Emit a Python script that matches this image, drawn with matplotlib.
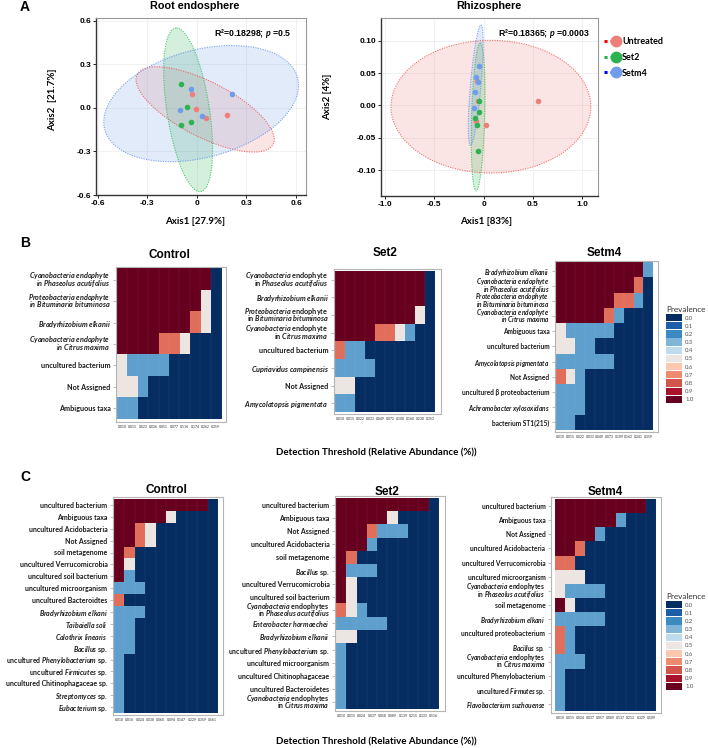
import numpy as np
import matplotlib
matplotlib.use('Agg')
import matplotlib.pyplot as plt
from matplotlib.colors import LinearSegmentedColormap
from matplotlib.lines import Line2D
from matplotlib.patches import Patch
from matplotlib.legend_handler import HandlerTuple

plt.rcParams['font.family'] = ['Lato', 'DejaVu Sans']
plt.rcParams['mathtext.fontset'] = 'custom'
plt.rcParams['mathtext.it'] = 'Lato:italic:bold'
plt.rcParams['mathtext.rm'] = 'Lato:bold'
plt.rcParams['mathtext.bf'] = 'Lato:bold'

W, H = 708, 748

# ---------------- Panel A : PCoA ----------------
groups = ['Untreated', 'Set2', 'Setm4']
point_colors = {'Untreated': '#ee8079', 'Set2': '#2bb34f', 'Setm4': '#6f9de9'}
edge_colors = {'Untreated': '#f0504a', 'Set2': '#22c04a', 'Setm4': '#5b8ff0'}
legend_dot_colors = {'Untreated': 'red', 'Set2': '#22b14c', 'Setm4': 'blue'}

root_x = {'Untreated': [-0.027, -0.008, 0.055, 0.182],
          'Set2': [-0.094, -0.057, -0.037, -0.098],
          'Setm4': [-0.037, 0.212, -0.104, 0.029]}
root_y = {'Untreated': [0.094, -0.009, -0.066, -0.048],
          'Set2': [0.162, 0.007, -0.094, -0.119],
          'Setm4': [0.128, 0.098, -0.014, -0.055]}
# ellipse: centre, first semi-axis vector, conjugate semi-axis vector
root_ell = {'Untreated': ((0.05, -0.01), (0.418, -0.206), (0.0, 0.21)),
            'Set2': ((-0.053, -0.013), (-0.071, 0.564), (0.13, 0.0)),
            'Setm4': ((0.026, 0.03), (0.589, 0.126), (0.0, 0.38))}

rhizo_x = {'Untreated': [-0.07, -0.06, -0.077, 0.027, 0.554],
           'Set2': [-0.044, -0.044, -0.087, -0.067, -0.057],
           'Setm4': [-0.05, -0.08, -0.06, -0.087, -0.094]}
rhizo_y = {'Untreated': [0.038, 0.006, -0.024, -0.031, 0.007],
           'Set2': [0.006, -0.010, -0.020, -0.031, -0.070],
           'Setm4': [0.061, 0.044, 0.036, 0.020, -0.004]}
rhizo_ell = {'Untreated': ((0.074, -0.002), (1.013, 0.0), (0.0, 0.1025)),
             'Set2': ((-0.055, -0.018), (0.021, 0.114), (0.067, 0.0)),
             'Setm4': ((-0.08, 0.031), (0.053, 0.093), (0.054, 0.0))}

root_xticks = [-0.6, -0.3, 0, 0.3, 0.6]
root_xticklabels = ['-0.6', '-0.3', '0', '0.3', '0.6']
root_yticks = [0.6, 0.3, 0.0, -0.3, -0.6]
root_yticklabels = ['0.6', '0.3', '0.0', '-0.3', '-0.6']
rhizo_xticks = [-1.0, -0.5, 0, 0.5, 1.0]
rhizo_xticklabels = ['-1.0', '-0.5', '0', '0.5', '1.0']
rhizo_yticks = [0.10, 0.05, 0.0, -0.05, -0.10]
rhizo_yticklabels = ['0.10', '0.05', '0.00', '-0.05', '-0.10']

# ---------------- Panel B : core microbiome heatmaps ----------------
b_control_rows = ['*Cyanobacteria endophyte*\n*in Phaseolus acutifolius*',
                  '*Proteobacteria endophyte*\n*in Bituminaria bituminosa*',
                  '*Bradyrhizobium elkanii*',
                  '*Cyanobacteria endophyte*\n*in Citrus maxima*',
                  'uncultured bacterium', 'Not Assigned', 'Ambiguous taxa']
b_control = [[1, 1, 1, 1, 1, 1, 1, 1, 1, 0],
             [1, 1, 1, 1, 1, 1, 1, 1, .5, 0],
             [1, 1, 1, 1, 1, 1, 1, .75, .5, 0],
             [1, 1, 1, 1, .75, .75, .5, 0, 0, 0],
             [.5, .25, .25, .25, .25, 0, 0, 0, 0, 0],
             [.5, .5, .25, 0, 0, 0, 0, 0, 0, 0],
             [.25, .25, 0, 0, 0, 0, 0, 0, 0, 0]]
b_control_ticks = ['0.010', '0.015', '0.023', '0.036', '0.051', '0.077',
                   '0.116', '0.174', '0.262', '0.359']

b_set2_rows = ['*Cyanobacteria* endophyte\nin *Phaseolus acutifolius*',
               '*Bradyrhizobium elkanii*',
               '*Proteobacteria* endophyte\nin *Bituminaria bituminosa*',
               '*Cyanobacteria* endophyte\nin *Citrus maxima*',
               'uncultured bacterium', '*Cupriavidus campinensis*',
               'Not Assigned', '*Amycolatopsis pigmentata*']
b_set2 = [[1, 1, 1, 1, 1, 1, 1, 1, 1, 0],
          [1, 1, 1, 1, 1, 1, 1, 1, 1, 0],
          [1, 1, 1, 1, 1, 1, 1, 1, .5, 0],
          [1, 1, 1, 1, .75, .75, .5, .25, 0, 0],
          [.75, .25, .25, 0, 0, 0, 0, 0, 0, 0],
          [.25, .25, .25, .25, 0, 0, 0, 0, 0, 0],
          [.5, .5, 0, 0, 0, 0, 0, 0, 0, 0],
          [.25, .25, 0, 0, 0, 0, 0, 0, 0, 0]]
b_set2_ticks = ['0.010', '0.015', '0.022', '0.033', '0.049', '0.072',
                '0.108', '0.160', '0.238', '0.353']

b_setm4_rows = ['*Bradyrhizobium elkanii*',
                '*Cyanobacteria endophyte*\n*in Phaseolus acutifolius*',
                '*Proteobacteria endophyte*\n*in Bituminaria bituminosa*',
                '*Cyanobacteria endophyte*\n*in Citrus maxima*',
                'Ambiguous taxa', 'uncultured bacterium',
                '*Amycolatopsis pigmentata*', 'Not Assigned',
                'uncultured β proteobacterium', '*Achromobacter xylosoxidans*',
                'bacterium ST1(215)']
b_setm4 = [[1, 1, 1, 1, 1, 1, 1, 1, 1, .25],
           [1, 1, 1, 1, 1, 1, 1, 1, .75, 0],
           [1, 1, 1, 1, 1, 1, .75, .75, .25, 0],
           [1, 1, 1, 1, 1, .75, .25, 0, 0, 0],
           [.5, .25, .25, .25, .25, .25, 0, 0, 0, 0],
           [.5, .5, .25, .25, 0, 0, 0, 0, 0, 0],
           [.25, .25, .25, .25, .25, .25, 0, 0, 0, 0],
           [.75, .5, .25, 0, 0, 0, 0, 0, 0, 0],
           [.25, .25, .25, 0, 0, 0, 0, 0, 0, 0],
           [.25, .25, .25, 0, 0, 0, 0, 0, 0, 0],
           [.25, .25, 0, 0, 0, 0, 0, 0, 0, 0]]
b_setm4_ticks = ['0.010', '0.015', '0.022', '0.033', '0.049', '0.073',
                 '0.109', '0.162', '0.241', '0.359']

# ---------------- Panel C ----------------
c_control_rows = ['uncultured bacterium', 'Ambiguous taxa', 'uncultured Acidobacteria',
                  'Not Assigned', 'soil metagenome', 'uncultured Verrucomicrobia',
                  'uncultured soil bacterium', 'uncultured microorganism',
                  'uncultured Bacteroidtes', '*Bradyrhizobium elkani*',
                  '*Taibaiella soli*', '*Calothrix linearis*', '*Bacillus* sp.',
                  'uncultured *Phenylobacterium* sp.', 'uncultured *Firmicutes* sp.',
                  'uncultured Chitinophagaceae sp.', '*Streptomyces* sp.',
                  '*Eubacterium* sp.']
c_control = [[1, 1, 1, 1, 1, 1, 1, 1, 1, 0],
             [1, 1, 1, 1, 1, .5, 0, 0, 0, 0],
             [1, 1, .75, .5, 0, 0, 0, 0, 0, 0],
             [1, 1, .75, .5, 0, 0, 0, 0, 0, 0],
             [1, .75, 0, 0, 0, 0, 0, 0, 0, 0],
             [1, .5, 0, 0, 0, 0, 0, 0, 0, 0],
             [1, .25, 0, 0, 0, 0, 0, 0, 0, 0],
             [.25, .25, .25, 0, 0, 0, 0, 0, 0, 0],
             [.75, 0, 0, 0, 0, 0, 0, 0, 0, 0],
             [.25, .25, .25, 0, 0, 0, 0, 0, 0, 0],
             [.25, .25, 0, 0, 0, 0, 0, 0, 0, 0],
             [.25, .25, 0, 0, 0, 0, 0, 0, 0, 0],
             [.25, .25, 0, 0, 0, 0, 0, 0, 0, 0],
             [.25, 0, 0, 0, 0, 0, 0, 0, 0, 0],
             [.25, 0, 0, 0, 0, 0, 0, 0, 0, 0],
             [.25, 0, 0, 0, 0, 0, 0, 0, 0, 0],
             [.25, 0, 0, 0, 0, 0, 0, 0, 0, 0],
             [.25, 0, 0, 0, 0, 0, 0, 0, 0, 0]]
c_control_ticks = ['0.010', '0.016', '0.024', '0.038', '0.060', '0.094',
                   '0.147', '0.229', '0.359', '0.561']

c_set2_rows = ['uncultured bacterium', 'Ambiguous taxa', 'Not Assigned',
               'uncultured Acidobacteria', 'soil metagenome', '*Bacillus* sp.',
               'uncultured Verrucomicrobia', 'uncultured soil bacterium',
               '*Cyanobacteria* endophytes\nin *Phaseolus acutifolius*',
               '*Enterobacter hormaechei*', '*Bradyrhizobium elkanii*',
               'uncultured *Phenylobacterium* sp.', 'uncultured microorganism',
               'uncultured Chitinophagaceae', 'uncultured Bacteroidetes',
               '*Cyanobacteria* endophytes\nin *Citrus maxima*']
c_set2 = [[1, 1, 1, 1, 1, 1, 1, 1, 1, 0],
          [1, 1, 1, 1, 1, .5, 0, 0, 0, 0],
          [1, 1, 1, .75, .25, .25, .25, 0, 0, 0],
          [1, 1, 1, .25, 0, 0, 0, 0, 0, 0],
          [1, .75, 0, 0, 0, 0, 0, 0, 0, 0],
          [1, .25, .25, .25, 0, 0, 0, 0, 0, 0],
          [1, .5, 0, 0, 0, 0, 0, 0, 0, 0],
          [1, .5, 0, 0, 0, 0, 0, 0, 0, 0],
          [.75, .5, .25, 0, 0, 0, 0, 0, 0, 0],
          [.25, .25, .25, .25, .25, 0, 0, 0, 0, 0],
          [.5, .5, 0, 0, 0, 0, 0, 0, 0, 0],
          [.25, 0, 0, 0, 0, 0, 0, 0, 0, 0],
          [.25, 0, 0, 0, 0, 0, 0, 0, 0, 0],
          [.25, 0, 0, 0, 0, 0, 0, 0, 0, 0],
          [.25, 0, 0, 0, 0, 0, 0, 0, 0, 0],
          [.25, 0, 0, 0, 0, 0, 0, 0, 0, 0]]
c_set2_ticks = ['0.010', '0.015', '0.024', '0.037', '0.058', '0.089',
                '0.139', '0.215', '0.333', '0.516']

c_setm4_rows = ['uncultured bacterium', 'Ambiguous taxa', 'Not Assigned',
                'uncultured Acidobacteria', 'uncultured Verrucomicrobia',
                'uncultured microorganism',
                '*Cyanobacteria* endophytes\nin *Phaseolus acutifolius*',
                'soil metagenome', '*Bradyrhizobium elkani*',
                'uncultured proteobacterium', '*Bacillus* sp.',
                '*Cyanobacteria* endophytes\nin *Citrus maxima*',
                'uncultured Phenylobacterium', 'uncultured *Firmutes* sp.',
                '*Flavobacterium suzhouense*']
c_setm4 = [[1, 1, 1, 1, 1, 1, 1, 1, 1, 0],
           [1, 1, 1, 1, 1, 1, .25, 0, 0, 0],
           [1, 1, 1, 1, .25, 0, 0, 0, 0, 0],
           [1, 1, .75, 0, 0, 0, 0, 0, 0, 0],
           [.75, .75, 0, 0, 0, 0, 0, 0, 0, 0],
           [.5, .5, .5, 0, 0, 0, 0, 0, 0, 0],
           [.5, .25, .25, .25, .25, 0, 0, 0, 0, 0],
           [1, .5, 0, 0, 0, 0, 0, 0, 0, 0],
           [.25, .25, .25, .25, .25, 0, 0, 0, 0, 0],
           [.75, .25, 0, 0, 0, 0, 0, 0, 0, 0],
           [.75, .25, 0, 0, 0, 0, 0, 0, 0, 0],
           [.25, .25, .25, 0, 0, 0, 0, 0, 0, 0],
           [.25, 0, 0, 0, 0, 0, 0, 0, 0, 0],
           [.25, 0, 0, 0, 0, 0, 0, 0, 0, 0],
           [.25, 0, 0, 0, 0, 0, 0, 0, 0, 0]]
c_setm4_ticks = ['0.010', '0.015', '0.024', '0.037', '0.057', '0.089',
                 '0.137', '0.212', '0.329', '0.509']

prev_levels = [0.0, 0.1, 0.2, 0.3, 0.4, 0.5, 0.6, 0.7, 0.8, 0.9, 1.0]
prev_colors = ['#062d62', '#1c5fa8', '#3d89c1', '#7fb6d9', '#bfdcec', '#ece6e2',
               '#fbc7af', '#ef8c6f', '#d3544a', '#a9132b', '#67001f']
cmap = LinearSegmentedColormap.from_list('prev', list(zip(prev_levels, prev_colors)))

ARIAL = ['Liberation Sans', 'DejaVu Sans']


def rect(l, t, r, b):
    return [l / W, 1 - b / H, (r - l) / W, (b - t) / H]


def fmt(label):
    lines = []
    for line in label.split('\n'):
        parts = line.split('*')
        out = ''
        for i, p in enumerate(parts):
            if i % 2 == 1 and p:
                out += r'$\mathit{' + p.replace(' ', r'\ ') + '}$'
            else:
                out += p
        lines.append(out)
    return '\n'.join(lines)


fig = plt.figure(figsize=(W / 100, H / 100), dpi=100)


def pcoa(box, xs, ys, ells, xlim, ylim, xt, xtl, yt, ytl, stat):
    ax = fig.add_axes(rect(*box))
    t = np.linspace(0, 2 * np.pi, 300)
    for g in groups:
        (cx, cy), (ux, uy), (vx, vy) = ells[g]
        ex = cx + ux * np.cos(t) + vx * np.sin(t)
        ey = cy + uy * np.cos(t) + vy * np.sin(t)
        ax.fill(ex, ey, color=point_colors[g], alpha=0.2, lw=0, zorder=1)
        ax.plot(ex, ey, ls=(0, (1, 1.2)), lw=0.8, color=edge_colors[g], alpha=0.8, zorder=2)
    for g in groups:
        ax.scatter(xs[g], ys[g], s=16, color=point_colors[g], lw=0, zorder=3)
    ax.set_xlim(*xlim)
    ax.set_ylim(*ylim)
    ax.set_xticks(xt)
    ax.set_xticklabels(xtl)
    ax.set_yticks(yt)
    ax.set_yticklabels(ytl)
    for lab in ax.get_xticklabels() + ax.get_yticklabels():
        lab.set_fontfamily(ARIAL)
        lab.set_fontweight('bold')
        lab.set_fontsize(6)
    ax.tick_params(length=2, width=0.6, pad=1.5)
    ax.grid(color='#ececec', lw=0.5, zorder=0)
    ax.set_axisbelow(True)
    for s in ['left', 'bottom']:
        ax.spines[s].set_color('#333333')
        ax.spines[s].set_linewidth(1.0)
    for s in ['top', 'right']:
        ax.spines[s].set_color('#999999')
        ax.spines[s].set_linewidth(0.8)
    ax.text(stat[0], stat[1], stat[2], transform=ax.transAxes, ha='right', va='center',
            fontsize=6.3, fontweight='bold', family=ARIAL)
    return ax


pcoa((96, 18, 306, 195), root_x, root_y, root_ell, (-0.61, 0.66), (-0.6, 0.62),
     root_xticks, root_xticklabels, root_yticks, root_yticklabels,
     (0.93, 0.915, 'R²=0.18298; $\\mathit{p}$ =0.5'))
pcoa((381, 18, 598, 196), rhizo_x, rhizo_y, rhizo_ell, (-1.04, 1.16), (-0.14, 0.135),
     rhizo_xticks, rhizo_xticklabels, rhizo_yticks, rhizo_yticklabels,
     (0.965, 0.915, 'R²=0.18365; $\\mathit{p}$ =0.0003'))

fig.text(195 / W, 1 - 6 / H, 'Root endosphere', ha='center', va='center',
         fontsize=7.8, fontweight='bold', family=ARIAL)
fig.text(489 / W, 1 - 6 / H, 'Rhizosphere', ha='center', va='center',
         fontsize=7.8, fontweight='bold', family=ARIAL)
fig.text(195 / W, 1 - 222 / H, 'Axis1 [27.9%]', ha='center', va='center',
         fontsize=7, fontweight='bold')
fig.text(486 / W, 1 - 222 / H, 'Axis1 [83%]', ha='center', va='center',
         fontsize=7, fontweight='bold')
fig.text(53 / W, 1 - 100 / H, 'Axis2  [21.7%]', ha='center', va='center',
         rotation=90, fontsize=7, fontweight='bold')
fig.text(328 / W, 1 - 97 / H, 'Axis2 [4%]', ha='center', va='center',
         rotation=90, fontsize=7, fontweight='bold')

handles = [(Line2D([], [], ls=(0, (1, 1)), lw=2.2, color=legend_dot_colors[g]),
            Line2D([], [], ls='none', marker='o', ms=7.5, color=point_colors[g]))
           for g in groups]
fig.legend(handles, groups, handler_map={tuple: HandlerTuple(ndivide=2, pad=0)},
           loc='upper left', bbox_to_anchor=(604 / W, 1 - 37 / H), frameon=False,
           handlelength=1.8, handletextpad=0.2, labelspacing=0.75, borderpad=0,
           borderaxespad=0, prop={'weight': 'bold', 'size': 6.5})

# panel letters
for letter, (x, y) in zip(['A', 'B', 'C'], [(25, 7), (25, 243), (25, 477)]):
    fig.text(x / W, 1 - y / H, letter, ha='center', va='center',
             fontsize=10, fontweight='bold', family=ARIAL)


def heatmap(cells, pads, grid, rows, ticks, title, title_y, fs=5.2):
    l, t, r, b = cells
    pl, pt, pr, pb = pads
    ax = fig.add_axes(rect(l - pl, t - pt, r + pr, b + pb))
    data = np.array(grid, dtype=float)
    nr, nc = data.shape
    ax.imshow(data, cmap=cmap, vmin=0, vmax=1, aspect='auto', interpolation='nearest')
    cw = (r - l) / nc
    ch = (b - t) / nr
    ax.set_xlim(-0.5 - pl / cw, nc - 0.5 + pr / cw)
    ax.set_ylim(nr - 0.5 + pb / ch, -0.5 - pt / ch)
    for k in range(nc + 1):
        ax.axvline(k - 0.5, color='white', lw=0.3, alpha=0.12)
    ax.set_xticks(range(nc))
    ax.set_xticklabels(ticks, fontsize=2.5, color='#333333')
    ax.set_yticks(range(nr))
    ax.set_yticklabels([fmt(s) for s in rows], fontsize=fs, fontweight='bold',
                       color='#1a1a1a')
    for lab in ax.get_yticklabels():
        lab.set_linespacing(0.55)
    ax.tick_params(axis='y', length=2, width=0.4, color='#888888', pad=2)
    ax.tick_params(axis='x', length=1, width=0.3, color='#888888', pad=1)
    for s in ax.spines.values():
        s.set_color('#b5b5b5')
        s.set_linewidth(0.8)
    fig.text((l + r) / 2 / W, 1 - title_y / H, title, ha='center', va='center',
             fontsize=8.5, fontweight='bold', family=ARIAL)
    return ax


heatmap((117, 269, 221, 419), (1, 2, 5, 3), b_control, b_control_rows, b_control_ticks, 'Control', 255)
heatmap((335, 271, 435, 412), (1, 2, 6, 2), b_set2, b_set2_rows, b_set2_ticks, 'Set2', 253)
heatmap((556, 263, 653, 430), (1, 2, 5, 2), b_setm4, b_setm4_rows, b_setm4_ticks, 'Setm4', 253, 4.7)

heatmap((114, 499, 218, 713), (1, 2, 5, 2), c_control, c_control_rows, c_control_ticks, 'Control', 490, 5.0)
heatmap((336, 498, 439, 709), (1, 2, 6, 2), c_set2, c_set2_rows, c_set2_ticks, 'Set2', 492, 5.0)
heatmap((555, 499, 656, 711), (4, 2, 5, 2), c_setm4, c_setm4_rows, c_setm4_ticks, 'Setm4', 492, 4.8)

for y in [453, 742]:
    fig.text(376 / W, 1 - y / H, 'Detection Threshold (Relative Abundance (%))',
             ha='center', va='center', fontsize=7, fontweight='bold')

prev_handles = [Patch(facecolor=cmap(v), edgecolor='none') for v in prev_levels]
prev_labels = [f'{v:.1f}' for v in prev_levels]
for top in [306, 593]:
    leg = fig.legend(prev_handles, prev_labels, title='Prevalence', loc='upper left',
                     bbox_to_anchor=(666 / W, 1 - top / H), frameon=False,
                     fontsize=4.3, title_fontsize=5.9, handlelength=2.6, handleheight=1.5,
                     labelspacing=0.15, handletextpad=0.6, borderpad=0, borderaxespad=0,
                     alignment='left')
    for txt in leg.get_texts():
        txt.set_color('#555555')
    leg.get_title().set_color('#333333')

fig.savefig('out.png', dpi=100)
